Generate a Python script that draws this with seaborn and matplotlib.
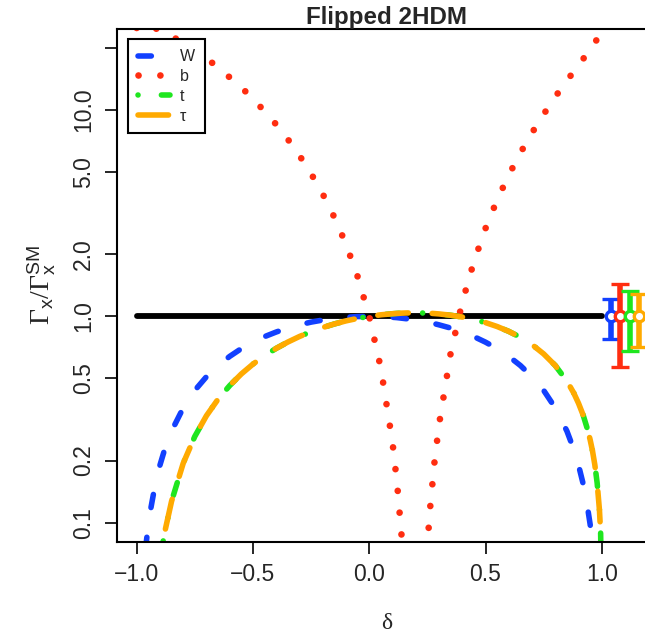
import numpy as np
import pandas as pd
import matplotlib
matplotlib.use("Agg")
import matplotlib.pyplot as plt
import seaborn as sns

# --- values (Flipped 2HDM, tan(beta) ~ 5) ---
delta = [-1.00, -0.99, -0.98, -0.97, -0.96, -0.95, -0.94, -0.92, -0.90, -0.88,
         -0.85, -0.80, -0.75, -0.70, -0.65, -0.60, -0.55, -0.50, -0.45, -0.40,
         -0.35, -0.30, -0.25, -0.20, -0.15, -0.10, -0.05, 0.00, 0.05, 0.10,
         0.12, 0.14, 0.16, 0.18, 0.20, 0.22, 0.24, 0.26, 0.28, 0.30,
         0.35, 0.40, 0.45, 0.50, 0.55, 0.60, 0.65, 0.70, 0.75, 0.80,
         0.85, 0.88, 0.90, 0.92, 0.94, 0.95, 0.96, 0.97, 0.98, 0.99,
         0.995, 1.00]

gamma_W = [np.nan, 0.020, 0.040, 0.059, 0.078, 0.098, 0.116, 0.154, 0.190, 0.226,
           0.278, 0.360, 0.438, 0.510, 0.578, 0.640, 0.698, 0.750, 0.798, 0.840,
           0.878, 0.910, 0.938, 0.960, 0.978, 0.990, 0.998, 1.000, 0.998, 0.990,
           0.986, 0.980, 0.974, 0.968, 0.960, 0.952, 0.942, 0.932, 0.922, 0.910,
           0.878, 0.840, 0.798, 0.750, 0.698, 0.640, 0.578, 0.510, 0.438, 0.360,
           0.278, 0.226, 0.190, 0.154, 0.116, 0.098, 0.078, 0.059, 0.040, 0.020,
           0.010, np.nan]

gamma_b = [25.0, 25.9, 26.0, 25.9, 25.8, 25.6, 25.4, 24.9, 24.4, 23.8,
           22.8, 21.2, 19.5, 17.8, 16.1, 14.4, 12.9, 11.3, 9.88, 8.51,
           7.22, 6.02, 4.92, 3.92, 3.02, 2.24, 1.56, 1.00, 0.561, 0.245,
           0.154, 0.084, 0.035, 0.007, 0.0004, 0.0155, 0.0525, 0.112, 0.194, 0.298,
           0.662, 1.17, 1.84, 2.67, 3.67, 4.84, 6.20, 7.76, 9.54, 11.6,
           13.9, 15.4, 16.5, 17.7, 19.0, 19.7, 20.4, 21.2, 22.1, 23.1,
           23.8, 25.0]

gamma_t = [np.nan, np.nan, np.nan, np.nan, np.nan, 0.0149, 0.0235, 0.0432, 0.0655, 0.0894,
           0.127, 0.194, 0.262, 0.330, 0.397, 0.462, 0.526, 0.587, 0.645, 0.700,
           0.751, 0.799, 0.843, 0.883, 0.919, 0.951, 0.978, 1.000, 1.018, 1.030,
           1.034, 1.037, 1.039, 1.040, 1.040, 1.039, 1.038, 1.036, 1.032, 1.028,
           1.013, 0.993, 0.966, 0.933, 0.893, 0.846, 0.792, 0.730, 0.658, 0.578,
           0.486, 0.424, 0.379, 0.332, 0.280, 0.252, 0.223, 0.191, 0.156, 0.115,
           0.0893, 0.040]

gamma_tau = [np.nan, np.nan, np.nan, np.nan, np.nan, 0.0149, 0.0235, 0.0432, 0.0655, 0.0894,
             0.127, 0.194, 0.262, 0.330, 0.397, 0.462, 0.526, 0.587, 0.645, 0.700,
             0.751, 0.799, 0.843, 0.883, 0.919, 0.951, 0.978, 1.000, 1.018, 1.030,
             1.034, 1.037, 1.039, 1.040, 1.040, 1.039, 1.038, 1.036, 1.032, 1.028,
             1.013, 0.993, 0.966, 0.933, 0.893, 0.846, 0.792, 0.730, 0.658, 0.578,
             0.486, 0.424, 0.379, 0.332, 0.280, 0.252, 0.223, 0.191, 0.156, 0.115,
             0.0893, 0.040]

# SM reference line
sm_x = [-1.0, 1.0]
sm_y = [1.0, 1.0]

# measured ratios with error bars (placed right of delta = 1)
meas_x = [1.04, 1.08, 1.12, 1.16]
meas_y = [1.0, 1.0, 1.0, 1.0]
meas_lo = [0.776, 0.566, 0.68, 0.71]
meas_hi = [1.22, 1.43, 1.33, 1.28]

series_names = ["W", "b", "t", "τ"]
series_cols = ["gamma_W", "gamma_b", "gamma_t", "gamma_tau"]
series_colors = ["#1240FF", "#FF2D10", "#1FE61F", "#FFAA00"]

df = pd.DataFrame({"delta": delta, "gamma_W": gamma_W, "gamma_b": gamma_b,
                   "gamma_t": gamma_t, "gamma_tau": gamma_tau})

# --- style ---
sns.set_style("ticks")
plt.rcParams["font.family"] = ["Liberation Sans", "DejaVu Sans"]
plt.rcParams["mathtext.fontset"] = "custom"
plt.rcParams["mathtext.rm"] = "Liberation Serif"
plt.rcParams["mathtext.it"] = "Liberation Serif:italic"
plt.rcParams["mathtext.sf"] = "Liberation Sans"

fig = plt.figure(figsize=(6.45, 6.36), dpi=100)
ax = fig.add_axes([0.1809, 0.1483, 0.8372, 0.8061])
ax.set_yscale("log")

# line widths in pt, dash patterns in units of line width
lws = [4.0, 4.8, 4.0, 4.0]
styles = [(0, (2.4, 5.4)), (0, (0.01, 3.27)), (0, (0.01, 4.2, 2.4, 4.2)), (0, (5.5, 4.3))]

ax.plot(sm_x, sm_y, color="black", lw=4.2, solid_capstyle="round", zorder=1)

for name, col, c, lw, ls in zip(series_names, series_cols, series_colors, lws, styles):
    sns.lineplot(data=df, x="delta", y=col, ax=ax, color=c, lw=lw, linestyle=ls,
                 dash_capstyle="round", estimator=None, sort=False, label=name, zorder=2)

for x, y, lo, hi, c in zip(meas_x, meas_y, meas_lo, meas_hi, series_colors):
    ax.errorbar([x], [y], yerr=[[y - lo], [hi - y]], fmt="o", color=c, ms=7.5,
                mfc="white", mec=c, mew=2.4, elinewidth=4.0, capsize=6.2, capthick=4.0,
                zorder=3)

ax.set_xlim(-1.086, 1.236)
ax.set_ylim(10 ** -1.092, 10 ** 1.393)

ax.set_xticks([-1.0, -0.5, 0.0, 0.5, 1.0])
ax.set_xticklabels(["\u22121.0", "\u22120.5", "0.0", "0.5", "1.0"])
ax.set_yticks([0.1, 0.2, 0.5, 1.0, 2.0, 5.0, 10.0, 20.0])
ax.set_yticklabels(["0.1", "0.2", "0.5", "1.0", "2.0", "5.0", "10.0", ""])
ax.minorticks_off()
ax.tick_params(axis="both", labelsize=16.5, length=8.6, width=1.4, pad=7, direction="out")
for lab in ax.get_yticklabels():
    lab.set_rotation(90)
    lab.set_va("center")

for sp in ax.spines.values():
    sp.set_linewidth(1.5)
    sp.set_color("black")

ax.set_title("Flipped 2HDM", fontsize=17.4, fontweight="bold", pad=1.5)
ax.set_xlabel("δ", fontsize=17, fontfamily="Liberation Serif", labelpad=19)
ax.set_ylabel(r"$\Gamma_\mathsf{x}/\Gamma_\mathsf{x}^\mathsf{SM}$", fontsize=20, labelpad=10)

leg = ax.legend(loc="upper left", bbox_to_anchor=(127.7 / 645, 1 - 39.3 / 636),
                bbox_transform=fig.transFigure, borderaxespad=0, fontsize=11.5,
                fancybox=False, framealpha=1, edgecolor="black", handlelength=2.0,
                handletextpad=0.65, labelspacing=0.3, borderpad=0.62)
leg.get_frame().set_linewidth(1.5)

fig.savefig("out.png", dpi=100)
